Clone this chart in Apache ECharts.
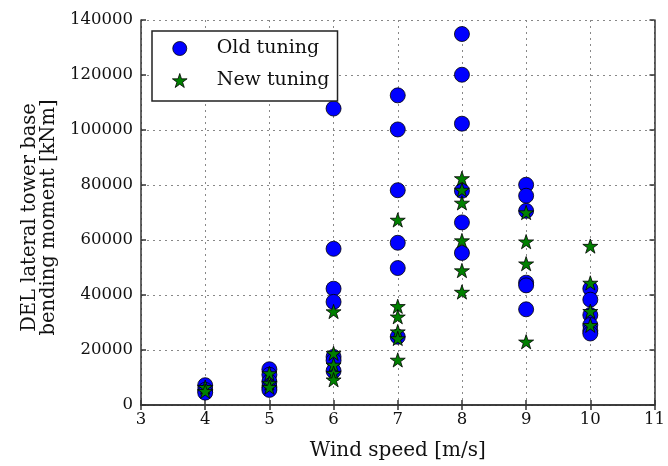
<!DOCTYPE html>
<html>
<head>
<meta charset="utf-8">
<script src="https://cdn.jsdelivr.net/npm/echarts@6/dist/echarts.min.js"></script>
<style>html,body{margin:0;padding:0;background:#fff}#c{width:668px;height:466px}</style>
</head>
<body>
<div id="c"></div>
<script>
// Data
var windSpeeds = [4, 5, 6, 7, 8, 9, 10];
var oldTuning = [
  [7200, 5500, 4500],
  [13000, 11000, 8500, 6500, 5500],
  [107800, 56800, 42300, 37500, 17500, 16200, 12400],
  [112600, 100200, 78100, 59000, 49800, 24800],
  [134900, 120100, 102300, 77900, 66400, 55300],
  [80100, 76100, 70600, 44500, 43500, 34800],
  [42300, 38300, 32700, 29100, 27000, 26000]
];
var newTuning = [
  [6500, 5000],
  [11500, 8000, 6500],
  [34000, 18800, 14600, 11600, 9200],
  [67300, 35900, 32100, 26700, 24200, 16400],
  [82400, 78200, 73500, 59800, 48900, 41100],
  [70000, 59400, 51400, 23000],
  [57800, 44400, 34100, 29000]
];
var xTicks = [3, 4, 5, 6, 7, 8, 9, 10, 11];
var yTicks = [0, 20000, 40000, 60000, 80000, 100000, 120000, 140000];
var seriesNames = ['Old tuning', 'New tuning'];

function toPoints(groups) {
  var pts = [];
  groups.forEach(function (vals, i) {
    vals.forEach(function (v) { pts.push([windSpeeds[i], v]); });
  });
  return pts;
}

var FONT = 'DejaVu Serif';
var starPath = 'path://M50,2 L61.2,36.6 L97.6,36.6 L68.2,58 L79.4,92.6 L50,71.2 L20.6,92.6 L31.8,58 L2.4,36.6 L38.8,36.6 Z';
var axisLineStyle = { color: '#333', width: 1.5 };
var gridLine = { show: true, lineStyle: { color: '#888', type: [2, 4], width: 1 } };

var chart = echarts.init(document.getElementById('c'), null, { renderer: 'canvas' });
chart.setOption({
  animation: false,
  backgroundColor: '#fff',
  grid: { left: 141, right: 11, top: 20, bottom: 59 },
  legend: {
    left: 152, top: 31,
    orient: 'vertical',
    data: [
      { name: seriesNames[0], icon: 'circle', itemStyle: { borderColor: '#000', borderWidth: 0.8 } },
      { name: seriesNames[1], icon: starPath, itemStyle: { borderColor: '#000', borderWidth: 0.8 } }
    ],
    backgroundColor: '#fff',
    borderColor: '#222', borderWidth: 1.5, borderRadius: 0,
    padding: [8, 8, 11, 20],
    itemWidth: 38, itemHeight: 14, itemGap: 13,
    textStyle: { fontFamily: FONT, fontSize: 19, color: '#111', padding: [0, 0, 0, 13] }
  },
  xAxis: [{
    type: 'value', min: 3, max: 11, interval: 1,
    name: 'Wind speed [m/s]', nameLocation: 'middle', nameGap: 36,
    nameTextStyle: { fontFamily: FONT, fontSize: 20, color: '#111' },
    axisLine: { show: true, lineStyle: axisLineStyle },
    axisTick: { show: true, inside: true, length: 5, lineStyle: axisLineStyle },
    axisLabel: { fontFamily: FONT, fontSize: 16.5, color: '#111', margin: 6,
      formatter: function (v) { return xTicks.indexOf(v) >= 0 ? String(v) : ''; } },
    splitLine: gridLine
  }, {
    type: 'value', min: 3, max: 11, interval: 1, position: 'top',
    axisLine: { show: true, lineStyle: axisLineStyle },
    axisTick: { show: true, inside: true, length: 5, lineStyle: axisLineStyle },
    axisLabel: { show: false }, splitLine: { show: false }
  }],
  yAxis: [{
    type: 'value', min: 0, max: 140000, interval: 20000,
    name: 'DEL lateral tower base\nbending moment [kNm]', nameLocation: 'middle', nameGap: 82,
    nameTextStyle: { fontFamily: FONT, fontSize: 19.5, color: '#111', lineHeight: 19, padding: [0, 10, 0, 0] },
    axisLine: { show: true, lineStyle: axisLineStyle },
    axisTick: { show: true, inside: true, length: 5, lineStyle: axisLineStyle },
    axisLabel: { fontFamily: FONT, fontSize: 16.5, color: '#111', margin: 8,
      formatter: function (v) { return yTicks.indexOf(v) >= 0 ? String(v) : ''; } },
    splitLine: gridLine
  }, {
    type: 'value', min: 0, max: 140000, interval: 20000, position: 'right',
    axisLine: { show: true, lineStyle: axisLineStyle },
    axisTick: { show: true, inside: true, length: 5, lineStyle: axisLineStyle },
    axisLabel: { show: false }, splitLine: { show: false }
  }],
  series: [{
    name: seriesNames[0], type: 'scatter', symbol: 'circle', symbolSize: 15,
    itemStyle: { color: '#0000ff', borderColor: '#000', borderWidth: 0.8, opacity: 1 },
    data: toPoints(oldTuning), z: 3
  }, {
    name: seriesNames[1], type: 'scatter', symbol: starPath, symbolSize: 15, symbolKeepAspect: true,
    itemStyle: { color: '#008000', borderColor: '#000', borderWidth: 0.8, opacity: 1 },
    data: toPoints(newTuning), z: 4
  }]
});
</script>
</body>
</html>
